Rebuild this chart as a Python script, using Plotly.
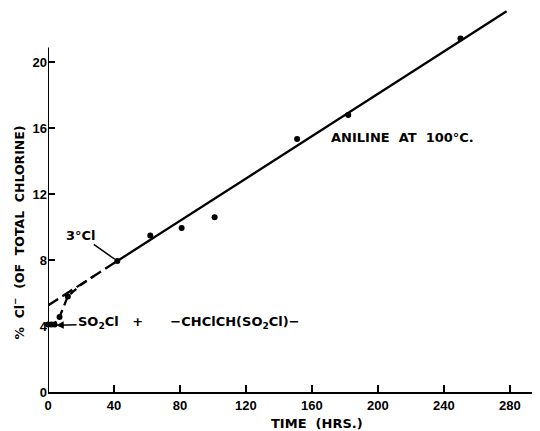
import plotly.graph_objects as go

# Data
time_hrs = [0, 2, 4, 7, 12, 42, 62, 81, 101, 151, 182, 250]
pct_cl = [4.1, 4.1, 4.1, 4.55, 5.8, 7.95, 9.5, 9.95, 10.6, 15.35, 16.8, 21.45]

# straight-line fit (dashed part extrapolated to t=0, solid part)
fit_dash_x = [0, 42]
fit_dash_y = [5.25, 7.95]
fit_solid_x = [42, 278]
fit_solid_y = [7.95, 23.1]

# early-time dashed curve
curve_x = [1, 4, 7, 12, 20, 28]
curve_y = [4.05, 4.15, 4.55, 5.8, 6.5, 7.05]

x_ticks = [0, 40, 80, 120, 160, 200, 240, 280]
y_ticks = [0, 4, 8, 12, 16, 20]

FONT = "DejaVu Sans"
TICKFONT = "Liberation Sans"
ink = "black"

fig = go.Figure()
fig.add_trace(go.Scatter(x=fit_dash_x, y=fit_dash_y, mode="lines",
                         line=dict(color=ink, width=2.3, dash="12px,5px"),
                         showlegend=False))
fig.add_trace(go.Scatter(x=fit_solid_x, y=fit_solid_y, mode="lines",
                         line=dict(color=ink, width=2.3),
                         showlegend=False))
fig.add_trace(go.Scatter(x=curve_x, y=curve_y, mode="lines",
                         line=dict(color=ink, width=2.3, dash="8px,5px"),
                         showlegend=False))
fig.add_trace(go.Scatter(x=time_hrs, y=pct_cl, mode="markers",
                         marker=dict(color=ink, size=6),
                         cliponaxis=False, showlegend=False))

# y-axis line stops at ~20.9 as in the original
fig.add_shape(type="line", xref="x", yref="y", x0=0, x1=0, y0=0, y1=20.9,
              line=dict(color=ink, width=2))

ann_font = dict(family=FONT, size=13, color=ink, weight="bold")
fig.add_annotation(x=42, y=7.95, ax=20, ay=9.5, axref="x", ayref="y",
                   text="3°Cl", showarrow=True, arrowhead=0, arrowwidth=1.5,
                   arrowcolor=ink, font=ann_font, standoff=3)
fig.add_annotation(x=5, y=4.05, ax=85.5, ay=4.2, axref="x", ayref="y",
                   text="SO<sub>2</sub>Cl   +      −CHClCH(SO<sub>2</sub>Cl)−",
                   showarrow=True, arrowhead=2, arrowsize=1, arrowwidth=1.5,
                   arrowcolor=ink, font=ann_font)
fig.add_annotation(x=215, y=15.45, text="ANILINE  AT  100°C.", showarrow=False,
                   font=ann_font)
fig.add_annotation(x=163, xref="x", y=-0.082, yref="paper", text="TIME  (HRS.)",
                   showarrow=False, font=ann_font, yanchor="middle")
fig.add_annotation(x=-0.062, xref="paper", y=0.415, yref="paper",
                   text="%  Cl<sup>−</sup>  (OF  TOTAL  CHLORINE)", textangle=-90,
                   showarrow=False, font=dict(family=FONT, size=12.5, color=ink, weight="bold"),
                   xanchor="center", yanchor="middle")

tick_font = dict(family=TICKFONT, size=13, color=ink, weight="bold")
fig.update_layout(
    width=532, height=423,
    margin=dict(l=40, r=7, t=0, b=39),
    plot_bgcolor="white", paper_bgcolor="white",
    font=dict(family=FONT, size=12, color=ink),
    xaxis=dict(range=[0, 294], tickvals=x_ticks, ticks="inside", ticklen=7,
               tickwidth=1.5, tickcolor=ink, showline=True, linewidth=2,
               linecolor=ink, showgrid=False, zeroline=False,
               tickfont=tick_font),
    yaxis=dict(range=[0, 23.3], tickvals=y_ticks, ticks="inside", ticklen=7,
               tickwidth=1.5, tickcolor=ink, showline=False,
               showgrid=False, zeroline=False,
               tickfont=tick_font),
)

fig.write_html("out.html")
